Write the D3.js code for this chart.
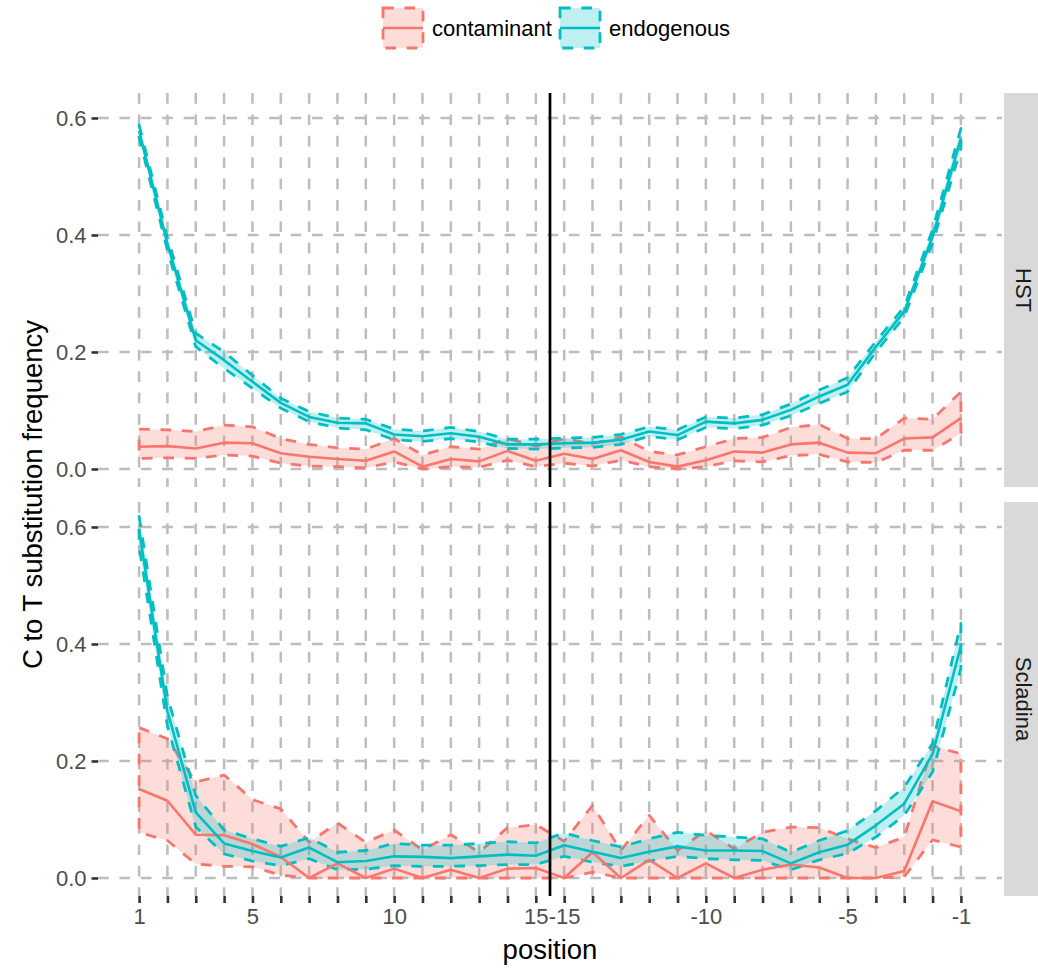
<!DOCTYPE html>
<html>
<head>
<meta charset="utf-8">
<script src="https://cdn.jsdelivr.net/npm/d3@7"></script>
<style>
  body { margin: 0; background: #fff; }
  svg text { font-family: "Liberation Sans", Arial, Helvetica, sans-serif; }
</style>
</head>
<body>
<svg id="chart" width="1038" height="968"></svg>
<script>

// ---------------------------------------------------------------------------
// data: C->T frequency by read position (5' side 1..15, 3' side -15..-1)
// ---------------------------------------------------------------------------

const positions = [1, 2, 3, 4, 5, 6, 7, 8, 9, 10, 11, 12, 13, 14, 15,
                   -15, -14, -13, -12, -11, -10, -9, -8, -7, -6, -5, -4, -3, -2, -1];
const tickLabels = [1, 5, 10, 15, -15, -10, -5, -1];
const yTicks = [0, 0.2, 0.4, 0.6];

const sites = ['HST', 'Scladina'];
const sources = ['contaminant', 'endogenous'];
const sourceColors = ['#F8766D', '#00BFC4'];

const hstContaminantMean = [0.038, 0.039, 0.035, 0.045, 0.044, 0.027, 0.021, 0.017, 0.014, 0.030, 0.004, 0.017, 0.013, 0.031, 0.014,
                            0.026, 0.017, 0.032, 0.012, 0.004, 0.015, 0.030, 0.028, 0.042, 0.045, 0.028, 0.027, 0.052, 0.054, 0.087];
const hstContaminantHigh = [0.068, 0.067, 0.064, 0.075, 0.072, 0.052, 0.042, 0.036, 0.034, 0.052, 0.024, 0.038, 0.034, 0.052, 0.039,
                            0.052, 0.043, 0.055, 0.030, 0.024, 0.038, 0.052, 0.054, 0.071, 0.076, 0.052, 0.052, 0.087, 0.085, 0.132];
const hstContaminantLow  = [0.018, 0.019, 0.018, 0.024, 0.022, 0.010, 0.005, 0.004, 0.002, 0.012, 0.000, 0.004, 0.003, 0.015, 0.004,
                            0.010, 0.005, 0.015, 0.004, 0.000, 0.004, 0.014, 0.012, 0.023, 0.025, 0.012, 0.011, 0.032, 0.032, 0.061];

const hstEndogenousMean = [0.578, 0.385, 0.220, 0.186, 0.149, 0.113, 0.089, 0.079, 0.078, 0.059, 0.056, 0.061, 0.055, 0.042, 0.042,
                           0.044, 0.045, 0.050, 0.064, 0.058, 0.081, 0.078, 0.084, 0.101, 0.124, 0.144, 0.209, 0.269, 0.397, 0.565];
const hstEndogenousHigh = [0.588, 0.396, 0.232, 0.200, 0.160, 0.121, 0.098, 0.087, 0.085, 0.068, 0.065, 0.071, 0.064, 0.051, 0.051,
                           0.053, 0.054, 0.059, 0.072, 0.067, 0.089, 0.087, 0.093, 0.111, 0.135, 0.156, 0.218, 0.277, 0.409, 0.582];
const hstEndogenousLow  = [0.567, 0.374, 0.209, 0.172, 0.138, 0.104, 0.081, 0.070, 0.067, 0.050, 0.047, 0.052, 0.046, 0.035, 0.034,
                           0.036, 0.037, 0.042, 0.056, 0.050, 0.071, 0.069, 0.075, 0.091, 0.112, 0.132, 0.200, 0.260, 0.386, 0.548];

const scladinaContaminantMean = [0.152, 0.132, 0.074, 0.073, 0.058, 0.036, 0.000, 0.025, 0.000, 0.016, 0.000, 0.014, 0.000, 0.016, 0.017,
                                 0.000, 0.044, 0.000, 0.031, 0.000, 0.025, 0.000, 0.014, 0.023, 0.018, 0.000, 0.000, 0.012, 0.131, 0.114];
const scladinaContaminantHigh = [0.257, 0.238, 0.164, 0.176, 0.134, 0.118, 0.061, 0.094, 0.061, 0.082, 0.048, 0.074, 0.044, 0.086, 0.091,
                                 0.063, 0.124, 0.047, 0.107, 0.047, 0.081, 0.050, 0.078, 0.087, 0.086, 0.067, 0.052, 0.070, 0.226, 0.212];
const scladinaContaminantLow  = [0.078, 0.064, 0.024, 0.020, 0.019, 0.005, 0.000, 0.000, 0.000, 0.000, 0.000, 0.000, 0.000, 0.000, 0.000,
                                 0.000, 0.010, 0.000, 0.000, 0.000, 0.000, 0.000, 0.000, 0.000, 0.000, 0.000, 0.000, 0.002, 0.065, 0.053];

const scladinaEndogenousMean = [0.595, 0.285, 0.112, 0.059, 0.046, 0.035, 0.052, 0.027, 0.029, 0.037, 0.036, 0.034, 0.037, 0.040, 0.038,
                                0.056, 0.045, 0.034, 0.045, 0.054, 0.047, 0.047, 0.046, 0.025, 0.044, 0.057, 0.090, 0.127, 0.212, 0.397];
const scladinaEndogenousHigh = [0.618, 0.310, 0.141, 0.082, 0.067, 0.054, 0.069, 0.044, 0.047, 0.059, 0.056, 0.056, 0.059, 0.062, 0.060,
                                0.077, 0.064, 0.053, 0.067, 0.078, 0.073, 0.070, 0.067, 0.044, 0.064, 0.081, 0.115, 0.155, 0.230, 0.435];
const scladinaEndogenousLow  = [0.567, 0.260, 0.087, 0.041, 0.029, 0.021, 0.033, 0.014, 0.015, 0.021, 0.020, 0.020, 0.021, 0.023, 0.023,
                                0.037, 0.027, 0.020, 0.029, 0.037, 0.033, 0.031, 0.030, 0.014, 0.031, 0.042, 0.070, 0.107, 0.181, 0.358];

// per site: [contaminant, endogenous] as {mean, high, low}
const siteSeries = {
  HST: [
    { mean: hstContaminantMean, high: hstContaminantHigh, low: hstContaminantLow },
    { mean: hstEndogenousMean, high: hstEndogenousHigh, low: hstEndogenousLow }
  ],
  Scladina: [
    { mean: scladinaContaminantMean, high: scladinaContaminantHigh, low: scladinaContaminantLow },
    { mean: scladinaEndogenousMean, high: scladinaEndogenousHigh, low: scladinaEndogenousLow }
  ]
};

// ---------------------------------------------------------------------------
// layout
// ---------------------------------------------------------------------------

const svg = d3.select('#chart');
svg.append('rect').attr('width', 1038).attr('height', 968).attr('fill', '#fff');

const panelLeft = 98, panelRight = 1002;
const panelBox = [ { top: 93, bottom: 487 }, { top: 502, bottom: 896 } ];
const stripLeft = 1004, stripWidth = 40;

const gridColor = '#bdbdbd';
const dash = '10.7,10.7';

const x = d3.scalePoint()
  .domain(positions)
  .range([panelLeft, panelRight])
  .padding(1.45);

const midLine = (x(15) + x(-15)) / 2;

sites.forEach((site, i) => {
  const box = panelBox[i];
  const y = d3.scaleLinear().domain([-0.0308, 0.6427]).range([box.bottom, box.top]);
  const g = svg.append('g');

  // grid
  g.selectAll('.vgrid').data(positions).join('line')
    .attr('x1', d => x(d)).attr('x2', d => x(d))
    .attr('y1', box.top).attr('y2', box.bottom)
    .attr('stroke', gridColor).attr('stroke-width', 2.5).attr('stroke-dasharray', dash);
  g.selectAll('.hgrid').data(yTicks).join('line')
    .attr('x1', panelLeft).attr('x2', panelRight)
    .attr('y1', d => y(d)).attr('y2', d => y(d))
    .attr('stroke', gridColor).attr('stroke-width', 2.5).attr('stroke-dasharray', dash);

  const series = siteSeries[site];

  // ribbons first, both sources, then the mean lines on top
  series.forEach((s, k) => {
    const area = d3.area()
      .x((d, j) => x(positions[j]))
      .y0((d, j) => y(s.low[j]))
      .y1((d, j) => y(s.high[j]));
    g.append('path')
      .attr('d', area(s.mean))
      .attr('fill', sourceColors[k]).attr('fill-opacity', 0.25)
      .attr('stroke', sourceColors[k]).attr('stroke-width', 2.8)
      .attr('stroke-dasharray', dash).attr('stroke-linejoin', 'round');
  });

  series.forEach((s, k) => {
    const line = d3.line()
      .x((d, j) => x(positions[j]))
      .y(d => y(d));
    g.append('path')
      .attr('d', line(s.mean))
      .attr('fill', 'none')
      .attr('stroke', sourceColors[k]).attr('stroke-width', 2.6)
      .attr('stroke-linejoin', 'round');
  });

  // boundary between 5' and 3' ends
  g.append('line')
    .attr('x1', midLine).attr('x2', midLine)
    .attr('y1', box.top).attr('y2', box.bottom)
    .attr('stroke', '#000').attr('stroke-width', 2.7);

  // facet strip
  g.append('rect')
    .attr('x', stripLeft).attr('y', box.top)
    .attr('width', stripWidth).attr('height', box.bottom - box.top)
    .attr('fill', '#d9d9d9');
  g.append('text')
    .attr('transform', `translate(${stripLeft + 19},${(box.top + box.bottom) / 2}) rotate(90)`)
    .attr('text-anchor', 'middle').attr('dominant-baseline', 'central')
    .attr('font-size', 22).attr('fill', '#1a1a1a')
    .text(site);

  // y axis
  const yAxis = g.append('g')
    .attr('transform', `translate(${panelLeft},0)`)
    .call(d3.axisLeft(y).tickValues(yTicks).tickFormat(d3.format('.1f')).tickSize(6.5).tickPadding(5));
  yAxis.select('.domain').remove();
  yAxis.selectAll('.tick line').attr('stroke', '#333').attr('stroke-width', 2.6);
  yAxis.selectAll('.tick text').attr('fill', '#4d4d4d').attr('font-size', 22)
    .style('font-family', '"Liberation Sans", Arial, sans-serif');

  // x axis under the last panel only
  if (i === sites.length - 1) {
    const xAxis = g.append('g')
      .attr('transform', `translate(0,${box.bottom})`)
      .call(d3.axisBottom(x).tickSize(7).tickPadding(5)
        .tickFormat(d => tickLabels.includes(d) ? String(d) : ''));
    xAxis.select('.domain').remove();
    xAxis.selectAll('.tick line').attr('stroke', '#333').attr('stroke-width', 2.6);
    xAxis.selectAll('.tick text').attr('fill', '#4d4d4d').attr('font-size', 22)
      .style('font-family', '"Liberation Sans", Arial, sans-serif');
  }
});

// axis titles
svg.append('text')
  .attr('x', (panelLeft + panelRight) / 2).attr('y', 959)
  .attr('text-anchor', 'middle').attr('font-size', 27.5).attr('fill', '#000')
  .text('position');

svg.append('text')
  .attr('transform', `translate(42,${(panelBox[0].top + panelBox[1].bottom) / 2}) rotate(-90)`)
  .attr('text-anchor', 'middle').attr('font-size', 27.5).attr('fill', '#000')
  .text('C to T substitution frequency');

// ---------------------------------------------------------------------------
// legend
// ---------------------------------------------------------------------------

const legendItems = [
  { key: 383, text: 432 },
  { key: 560, text: 609 }
];

sources.forEach((src, k) => {
  const it = legendItems[k];
  const lg = svg.append('g');
  lg.append('rect')
    .attr('x', it.key).attr('y', 8).attr('width', 40).attr('height', 40)
    .attr('fill', sourceColors[k]).attr('fill-opacity', 0.25)
    .attr('stroke', sourceColors[k]).attr('stroke-width', 2.8)
    .attr('stroke-dasharray', dash);
  lg.append('line')
    .attr('x1', it.key).attr('x2', it.key + 40)
    .attr('y1', 28).attr('y2', 28)
    .attr('stroke', sourceColors[k]).attr('stroke-width', 2.6);
  lg.append('text')
    .attr('x', it.text).attr('y', 28)
    .attr('dominant-baseline', 'central')
    .attr('font-size', 22).attr('fill', '#000')
    .text(src);
});

</script>
</body>
</html>
